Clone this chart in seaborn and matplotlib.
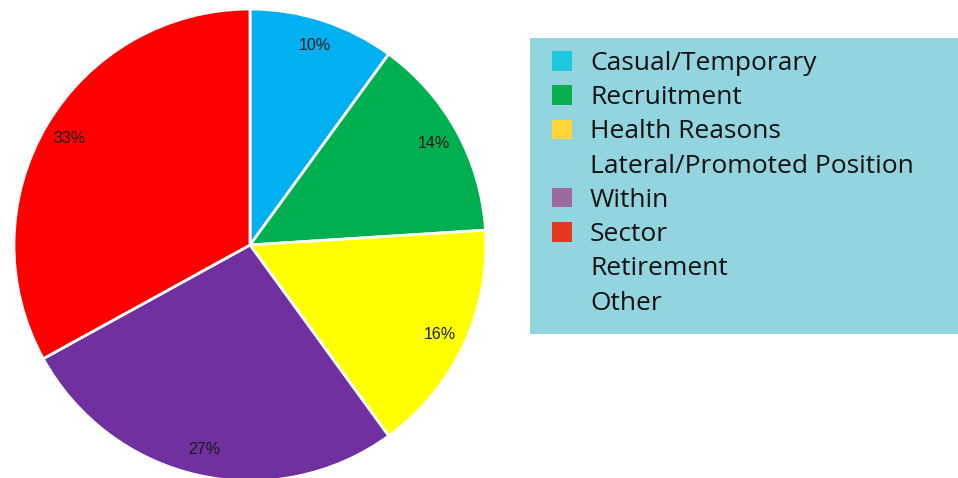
import matplotlib
matplotlib.use("Agg")
import matplotlib.pyplot as plt
import matplotlib.patches as mpatches
import seaborn as sns

# pie data (clockwise from 12 o'clock)
pie_shares = [10, 14, 16, 27, 33]
pie_colors = ["#00B0F0", "#00B050", "#FFFF00", "#7030A0", "#FF0000"]

# legend entries (None = no swatch)
legend_labels = ["Casual/Temporary", "Recruitment", "Health Reasons",
                 "Lateral/Promoted Position", "Within", "Sector",
                 "Retirement", "Other"]
legend_colors = ["#1BC8DD", "#0AAE4E", "#FFD63A", None,
                 "#9D6A9E", "#E3371E", None, None]


def main():
    sns.set_theme(style="white")
    plt.rcParams["font.family"] = ["Open Sans", "DejaVu Sans"]

    fig = plt.figure(figsize=(9.58, 4.78), dpi=100)
    W, H = 958, 478

    # pie centred at (250, 245) px, radius ~236 px
    r = 236
    ax = fig.add_axes([(250 - r) / W, (H - 245 - r) / H, 2 * r / W, 2 * r / H])
    wedges, texts, autotexts = ax.pie(
        pie_shares, colors=sns.color_palette(pie_colors), startangle=90,
        counterclock=False, autopct="%d%%", pctdistance=0.89,
        wedgeprops={"edgecolor": "white", "linewidth": 2},
        textprops={"fontsize": 11.5, "color": "#1a1a1a",
                   "family": ["Liberation Sans", "DejaVu Sans"]})
    ax.set_xlim(-1.0, 1.0)
    ax.set_ylim(-1.0, 1.0)
    ax.set_aspect("equal")
    ax.axis("off")

    # legend box
    box = mpatches.Rectangle((530 / W, 1 - 334 / H), (958 - 530) / W, (334 - 38) / H,
                             transform=fig.transFigure, facecolor="#92D5DF",
                             edgecolor="none", zorder=0)
    fig.patches.append(box)

    handles = []
    for lab, col in zip(legend_labels, legend_colors):
        if col is None:
            handles.append(mpatches.Patch(facecolor="none", edgecolor="none", label=lab))
        else:
            handles.append(mpatches.Patch(facecolor=col, edgecolor="none", label=lab))

    fs = 19
    fpx = fs * 100 / 72
    leg = fig.legend(handles=handles, loc="upper left",
                     bbox_to_anchor=(552 / W, 1 - 51 / H), frameon=False,
                     fontsize=fs, handlelength=20 / fpx, handleheight=20 / fpx,
                     handletextpad=18 / fpx, labelspacing=0.35, borderaxespad=0,
                     borderpad=0)
    for t in leg.get_texts():
        t.set_color("#111111")

    fig.savefig("out.png", dpi=100)


if __name__ == "__main__":
    main()
